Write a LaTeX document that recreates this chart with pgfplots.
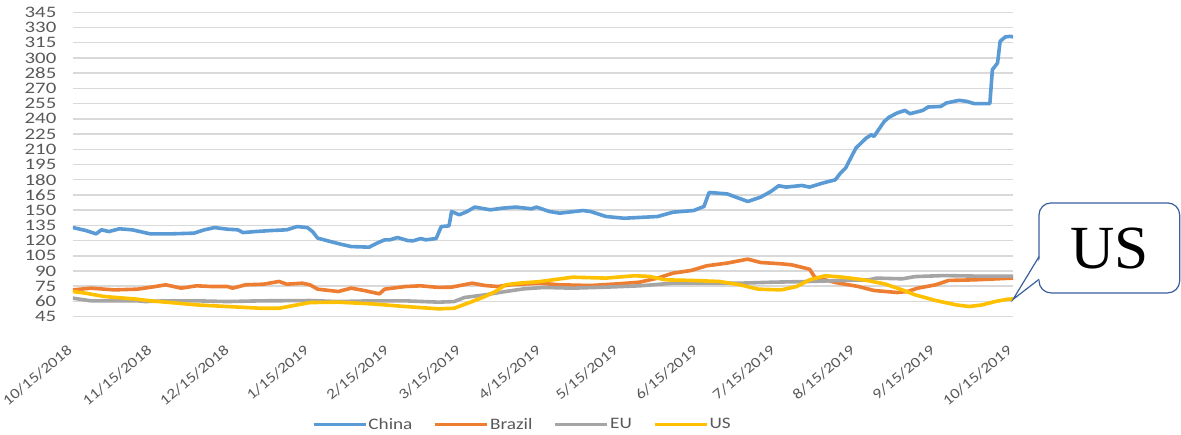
\documentclass[border=0pt]{standalone}
\usepackage{fontspec}
\setmainfont{Carlito}[FakeStretch=1.2]
\newfontfamily\tickfont{Carlito}[FakeStretch=1.3]
\newfontfamily\calloutfont{Liberation Serif}
\usepackage{pgfplots}
\pgfplotsset{compat=1.18}
\usepackage{pgfplotstable}

\definecolor{cnblue}{HTML}{5B9BD5}
\definecolor{brorange}{HTML}{ED7D31}
\definecolor{eugray}{HTML}{A5A5A5}
\definecolor{usgold}{HTML}{FFC000}
\definecolor{gridgray}{HTML}{D9D9D9}
\definecolor{labelgray}{HTML}{595959}
\definecolor{callblue}{HTML}{3A5FA0}

% day (days after 10/15/2018), price index
\pgfplotstableread{
d v
0 132.8
5 129.9
9 126.6
11 130.6
14 128.9
18 131.6
23 130.6
30 126.6
38 126.6
47 127.3
51 130.6
55 132.8
60 131.2
64 130.6
66 127.9
71 128.9
77 129.9
83 130.6
87 133.8
91 132.8
93 128.9
95 122.4
100 119.0
104 116.4
108 114.1
115 113.5
118 117.4
121 120.7
123 120.7
126 123.0
130 120.0
132 119.7
135 122.0
137 120.7
141 122.0
143 133.8
146 134.5
147 148.6
150 145.4
153 148.6
156 153.0
162 150.3
167 152.0
172 153.0
178 151.3
180 153.0
185 148.6
189 147.0
198 149.6
201 148.6
207 143.7
214 142.0
227 143.7
233 148.0
241 149.6
245 153.6
247 167.4
254 166.0
262 158.5
267 162.8
271 168.4
274 174.0
277 172.7
283 174.3
286 172.7
291 176.6
296 179.9
298 186.5
300 191.5
304 211.2
308 221.0
310 224.3
311 222.6
315 237.4
317 241.8
320 245.7
323 248.3
325 245.0
330 248.3
332 251.6
337 252.2
339 255.5
344 258.2
347 257.2
350 254.9
356 254.9
357 288.5
359 295.0
360 316.4
362 320.7
364 321.3
365 320.7
}\china

\pgfplotstableread{
d v
0 71.4
7 73.1
16 71.4
25 72.1
32 74.7
36 76.4
42 73.1
48 75.4
54 74.7
60 74.7
62 73.1
67 76.4
74 77.0
80 79.7
83 77.0
89 78.0
92 76.4
95 72.1
103 69.8
108 73.1
113 70.8
119 67.5
121 72.1
129 74.7
135 75.4
142 73.8
147 74.1
155 78.0
160 75.7
165 74.7
170 76.4
181 78.0
189 76.4
201 75.7
212 77.4
220 79.0
227 83.0
233 87.9
240 90.5
246 95.1
254 97.8
262 101.7
267 98.4
275 97.1
279 96.1
286 91.8
288 84.0
296 78.7
305 74.7
311 70.8
320 68.8
324 69.8
328 73.1
335 76.4
340 80.7
350 81.3
365 83.0
}\brazil

\pgfplotstableread{
d v
0 63.2
7 60.6
25 60.6
28 59.9
36 60.6
48 60.6
60 59.9
73 60.6
92 60.9
103 59.9
116 60.6
129 60.6
142 59.3
148 59.9
152 63.9
160 66.5
168 69.8
175 72.4
183 73.8
194 73.1
207 74.1
220 75.4
233 78.0
246 78.0
259 78.0
272 79.0
286 79.7
299 80.7
309 81.3
312 83.0
322 82.3
327 84.5
338 85.5
350 85.0
365 85.0
}\eu

\pgfplotstableread{
d v
0 69.8
5 68.1
12 64.9
25 62.2
30 60.6
38 58.9
48 56.6
60 55.0
73 53.3
80 53.3
87 56.6
92 58.9
103 59.3
116 57.6
129 55.0
142 52.7
148 53.3
155 59.9
160 64.9
164 69.8
168 76.4
173 78.0
181 79.5
194 83.9
207 83.0
218 85.3
224 84.6
230 81.3
240 80.7
251 79.7
259 76.4
266 72.1
275 71.4
281 74.7
286 81.3
292 85.3
299 83.9
307 81.3
315 77.4
322 71.4
327 66.5
335 60.9
343 56.6
348 55.0
353 56.6
358 59.9
363 62.2
365 62.5
}\us

\begin{document}
\begin{tikzpicture}
\path[use as bounding box] (-54.75pt,-88.7pt) rectangle (831pt,237.5pt);
\begin{axis}[
  name=ax,
  scale only axis,
  width=705pt, height=228.3pt,
  xmin=0, xmax=365, ymin=45, ymax=345,
  axis line style={draw=none},
  major tick length=0pt,
  ytick={45,60,...,345},
  ymajorgrids,
  grid style={line width=1.1pt, gridgray},
  xtick={0,31,61,92,123,151,182,212,243,273,304,335,365},
  xticklabels={10/15/2018,11/15/2018,12/15/2018,1/15/2019,2/15/2019,3/15/2019,4/15/2019,5/15/2019,6/15/2019,7/15/2019,8/15/2019,9/15/2019,10/15/2019},
  /pgf/number format/assume math mode=true,
  yticklabel style={font=\tickfont\fontsize{12}{13}\selectfont, text=labelgray, xshift=-9pt},
  xticklabel style={font=\fontsize{11}{12}\selectfont, text=labelgray, rotate=40, anchor=north east, yshift=-9pt, xshift=-13.5pt},
  legend columns=4,
  legend style={at={(0.4777,-0.355)}, anchor=center, draw=none, fill=none,
    font=\fontsize{12}{14}\selectfont, text=labelgray,
    /tikz/every even column/.append style={column sep=15pt},
    nodes={inner xsep=1pt}},
  legend image code/.code={\draw[#1, line width=2.25pt, line cap=butt] (0pt,0pt) -- (39pt,0pt);},
  every axis plot/.append style={line width=2.7pt, line join=round, line cap=round},
]
\addplot[cnblue] table[x=d, y=v] {\china};
\addlegendentry{China}
\addplot[brorange] table[x=d, y=v] {\brazil};
\addlegendentry{Brazil}
\addplot[eugray] table[x=d, y=v] {\eu};
\addlegendentry{EU}
\addplot[usgold] table[x=d, y=v] {\us};
\addlegendentry{US}
\coordinate (tip) at (axis cs:365,62);
\end{axis}
% callout labelling the US series
\draw[callblue, line width=0.9pt, fill=white, rounded corners=9pt] (724.5pt,17.8pt) rectangle (830pt,85.3pt);
\fill[white] (726pt,28.4pt) -- (tip) -- (726pt,44.6pt) -- cycle;
\draw[callblue, line width=0.9pt, line join=miter] (724.5pt,28pt) -- (tip) -- (724.5pt,45pt);
\node[font=\calloutfont\fontsize{46}{46}\selectfont, text=black] at (777.25pt,51.5pt) {US};
\end{tikzpicture}
\end{document}
